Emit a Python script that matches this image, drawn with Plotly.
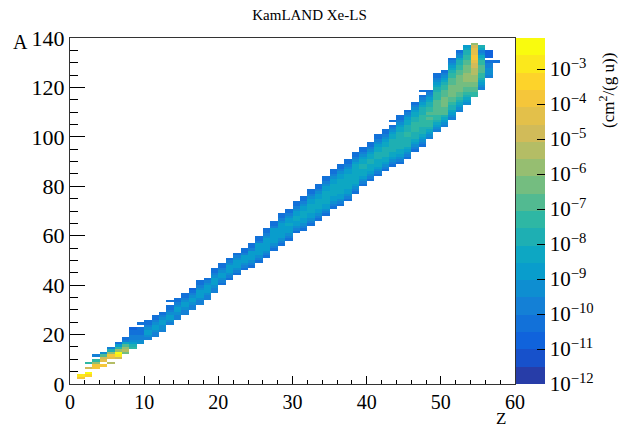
import numpy as np
import plotly.graph_objects as go

# ---------------- data ----------------
# element number Z (x bin), first mass number A of the column, and the
# colour band (0..19, '.' = empty bin) of every A bin upward from a_first
z_elements = list(range(1, 58))
a_first = [2, 3, 6, 7, 8, 10, 12, 14, 16, 18,
           19, 21, 24, 26, 28, 30, 32, 34, 37, 40,
           42, 44, 46, 47, 49, 51, 54, 56, 58, 61,
           62, 64, 66, 68, 71, 72, 74, 77, 80, 82,
           84, 86, 88, 89, 91, 94, 96, 99, 102, 104,
           107, 110, 113, 116, 119, 124, 130]
band_levels = [
    "gi", "hj.e.9", "ggc9.4", "g.fea5", "d.fgc84", "eijc963", "bdca743",
    "986544332", "5544333.3", "45665433",
    "445665433", "45566543", "45665433.3", "445665433", "445665433",
    "445665432", "4456665433", "445666543", "4456665433", "345665433",
    "345666543", "345666543", "345666433", "3456666433", "34566666433",
    "345666665433", "345666666433", "3456666665433", "3456667665433",
    "3456677665433",
    "34566777665433", "345667777665433", "345667777665433",
    "3456677777665433", "3456677777665433", "34566777777665433",
    "34566777777665433", "34567777777765433", "3456777887765433",
    "3456777887765433",
    "34567778887765433", "34567788887765433", "34567788888776543.3",
    "34567788888887765433", "34567888899888776543", "34567888999988776543",
    "345678889999988876543.3", "45678999a9a998876543",
    "4567899aaaaaa99988765433", "45678aaabbbbaaa99876543",
    "4567889aabbbbbaaa99876543", "456789aabbbbbbbaa99887543",
    "56789aabbccccbbbaa998876", "99aabbcccdddeefggfffec",
    "4567899aaa99875478", "4555443.222", "3",
]

# colour axis: log10 of yield, 1e-12 .. max, 20 contour bands
log_min = -12.0
log_max = -2.114
n_bands = 20
cbar_tick_exp = list(range(-12, -2))

# axis ranges
x_range = [0, 60]
y_range = [0, 140]

# ---------------- build the histogram ----------------
band_w = (log_max - log_min) / n_bands
hist = np.full((y_range[1], x_range[1]), np.nan)
for zz, a0, s in zip(z_elements, a_first, band_levels):
    for k, ch in enumerate(s):
        if ch == ".":
            continue
        lev = int(ch, 36)
        hist[a0 + k, zz] = log_min + (lev + 0.5) * band_w

# ROOT kBird palette, 255 colours, 20 contour bands
st = [0.0, 0.125, 0.25, 0.375, 0.5, 0.625, 0.75, 0.875, 1.0]
rr = [0.2082, 0.0592, 0.0780, 0.0232, 0.1802, 0.5301, 0.8186, 0.9956, 0.9764]
gg = [0.1664, 0.3599, 0.5041, 0.6419, 0.7178, 0.7492, 0.7328, 0.7862, 0.9832]
bb = [0.5293, 0.8684, 0.8385, 0.7914, 0.6425, 0.4662, 0.3499, 0.1968, 0.0539]
cs = []
for i in range(n_bands):
    idx = int((i + 0.99) * 255 / n_bands)
    f = min(idx / 254.0, 1.0)
    r = np.interp(f, st, rr); g = np.interp(f, st, gg); b = np.interp(f, st, bb)
    col = "rgb(%d,%d,%d)" % (round(r * 255), round(g * 255), round(b * 255))
    cs.append([i / n_bands, col])
    cs.append([(i + 1) / n_bands, col])

serif = "Liberation Serif"

fig = go.Figure(go.Heatmap(
    z=hist,
    x=np.arange(x_range[0], x_range[1] + 1),
    y=np.arange(y_range[0], y_range[1] + 1),
    zmin=log_min, zmax=log_max,
    colorscale=cs, zsmooth=False, hoverongaps=False,
    colorbar=dict(
        x=1.0022, xanchor="left", xpad=0, y=0.5, yanchor="middle",
        len=1.0, lenmode="fraction", ypad=0, thickness=29,
        outlinewidth=0,
        tickmode="array", tickvals=cbar_tick_exp,
        ticktext=["10<sup>\u2212%d</sup>" % abs(e) for e in cbar_tick_exp],
        ticks="inside", ticklen=8, tickcolor="black", tickwidth=1,
        tickfont=dict(family=serif, size=21, color="black"),
    ),
))

# minor ticks on the colour axis
L = 70
pw = 445.0
ph = 346.0
bar_right = (545 - L) / pw
shapes = []
for d in cbar_tick_exp:
    for k in range(2, 10):
        v = d + np.log10(k)
        if v >= log_max:
            continue
        yp = (v - log_min) / (log_max - log_min)
        shapes.append(dict(type="line", xref="paper", yref="paper",
                           x0=bar_right - 4 / pw, x1=bar_right, y0=yp, y1=yp,
                           line=dict(color="black", width=1)))

axis_common = dict(showline=True, mirror=True, linecolor="#333", linewidth=1,
                   showgrid=False, zeroline=False, ticks="inside",
                   tickcolor="black", tickwidth=1)

fig.update_layout(
    width=619, height=428,
    margin=dict(l=70, r=104, t=38, b=44),
    paper_bgcolor="white", plot_bgcolor="white",
    font=dict(family=serif, color="black"),
    title=dict(text="KamLAND Xe-LS", x=0.5, xanchor="center",
               y=1 - 15 / 428, yanchor="middle",
               font=dict(family=serif, size=15, color="black")),
    xaxis=dict(range=x_range, tickmode="linear", tick0=0, dtick=10, ticklen=8,
               tickfont=dict(family=serif, size=20, color="black"),
               minor=dict(dtick=2, ticklen=4, ticks="inside", tickcolor="black"),
               **axis_common),
    yaxis=dict(range=y_range, tickmode="linear", tick0=0, dtick=20, ticklen=15,
               tickfont=dict(family=serif, size=22, color="black"),
               minor=dict(dtick=5, ticklen=8, ticks="inside", tickcolor="black"),
               **axis_common),
    shapes=shapes,
    annotations=[
        dict(text="Z", xref="paper", yref="paper", x=(501 - L) / pw,
             y=(384 - 418) / ph, xanchor="center", yanchor="middle",
             showarrow=False, font=dict(family=serif, size=17, color="black")),
        dict(text="A", xref="paper", yref="paper", x=(20 - L) / pw,
             y=(384 - 42) / ph, xanchor="center", yanchor="middle",
             showarrow=False, font=dict(family=serif, size=20, color="black")),
        dict(text="(cm<sup>2</sup>/(g u))", xref="paper", yref="paper",
             x=(607 - L) / pw, y=(384 - 91) / ph, textangle=-90,
             xanchor="center", yanchor="middle",
             showarrow=False, font=dict(family=serif, size=17, color="black")),
    ],
)

fig.write_html("out.html")
